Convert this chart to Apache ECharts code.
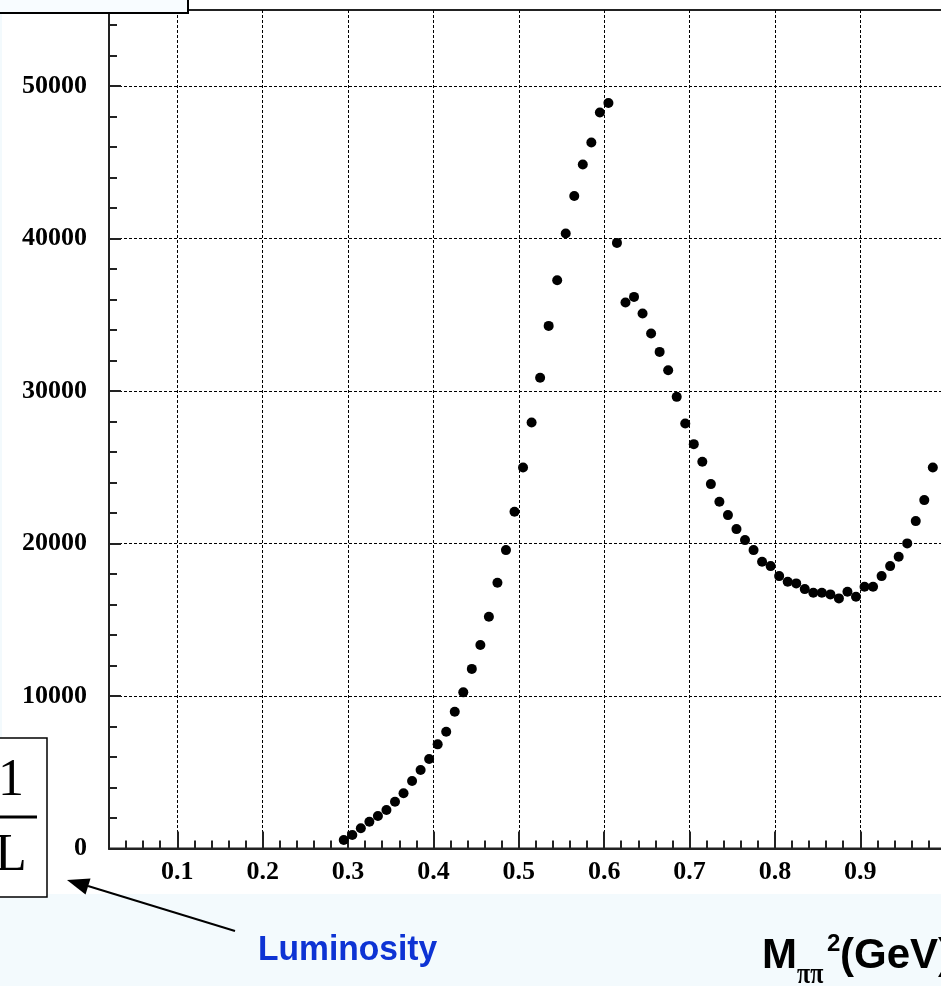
<!DOCTYPE html>
<html><head><meta charset="utf-8">
<script src="https://cdn.jsdelivr.net/npm/echarts@6/dist/echarts.min.js"></script>
<style>html,body{margin:0;padding:0;background:#f3fafd;overflow:hidden;}#c{width:1040px;height:986px;}</style>
</head><body><div id="c"></div>
<script>
// Data
const xValues = [0.295,0.305,0.315,0.325,0.335,0.345,0.355,0.365,0.375,0.385,
  0.395,0.405,0.415,0.425,0.435,0.445,0.455,0.465,0.475,0.485,
  0.495,0.505,0.515,0.525,0.535,0.545,0.555,0.565,0.575,0.585,
  0.595,0.605,0.615,0.625,0.635,0.645,0.655,0.665,0.675,0.685,
  0.695,0.705,0.715,0.725,0.735,0.745,0.755,0.765,0.775,0.785,
  0.795,0.805,0.815,0.825,0.835,0.845,0.855,0.865,0.875,0.885,
  0.895,0.905,0.915,0.925,0.935,0.945,0.955,0.965,0.975,0.985];
const yValues = [557,885,1324,1757,2131,2525,3069,3620,4426,5148,
  5869,6832,7659,8970,10243,11780,13344,15199,17429,19573,
  22084,24995,27946,30880,34280,37277,40338,42804,44863,46305,
  48273,48903,39723,35814,36182,35093,33782,32575,31375,29624,
  27880,26523,25363,23901,22741,21868,20950,20228,19573,18806,
  18524,17868,17494,17389,17015,16773,16773,16668,16406,16839,
  16511,17166,17166,17868,18524,19134,20012,21475,22852,24995];
const xMajorTicks = [0.1,0.2,0.3,0.4,0.5,0.6,0.7,0.8,0.9,1.0];
const xMinorTicks = [0.04,0.06,0.08,0.12,0.14,0.16,0.18,0.22,0.24,0.26,0.28,0.32,0.34,0.36,0.38,
  0.42,0.44,0.46,0.48,0.52,0.54,0.56,0.58,0.62,0.64,0.66,0.68,0.72,0.74,0.76,0.78,
  0.82,0.84,0.86,0.88,0.92,0.94,0.96,0.98,1.02,1.04,1.06,1.08];
const yMajorTicks = [0,10000,20000,30000,40000,50000];
const yMinorTicks = [2000,4000,6000,8000,12000,14000,16000,18000,22000,24000,26000,28000,
  32000,34000,36000,38000,42000,44000,46000,48000,52000,54000];
const xRange = [0.02, 1.1];
const yRange = [0, 55000];

const chart = echarts.init(document.getElementById('c'), null, {renderer:'canvas'});
const g = {left:109, top:10, width:922, height:838.5};
const axisCol = '#222';
const labelFont = {color:'#000', fontFamily:'"Liberation Serif", serif', fontWeight:'bold', fontSize:26};

const option = {
  backgroundColor:'#f3fafd',
  animation:false,
  grid:[
    Object.assign({show:true, borderColor:axisCol, borderWidth:2, backgroundColor:'#fff'}, g),
    Object.assign({show:false}, g)
  ],
  xAxis:[
    {type:'value', gridIndex:0, min:xRange[0], max:xRange[1], position:'bottom',
     axisLine:{show:true, onZero:false, lineStyle:{color:axisCol, width:2}},
     axisTick:{show:true, inside:true, length:17, customValues:xMajorTicks, lineStyle:{color:axisCol, width:2}},
     axisLabel:Object.assign({show:true, customValues:xMajorTicks, margin:11,
       formatter:v=>String(+(+v).toFixed(2))}, labelFont),
     splitLine:{show:true, lineStyle:{color:'#000', width:1, type:[3,2]}}},
    {type:'value', gridIndex:1, min:xRange[0], max:xRange[1], position:'bottom',
     axisLine:{show:false, onZero:false},
     axisTick:{show:true, inside:true, length:8, customValues:xMinorTicks, lineStyle:{color:axisCol, width:2}},
     axisLabel:{show:false}, splitLine:{show:false}}
  ],
  yAxis:[
    {type:'value', gridIndex:0, min:yRange[0], max:yRange[1], position:'left',
     axisLine:{show:true, onZero:false, lineStyle:{color:axisCol, width:2}},
     axisTick:{show:true, inside:true, length:12, customValues:yMajorTicks, lineStyle:{color:axisCol, width:2}},
     axisLabel:Object.assign({show:true, customValues:yMajorTicks, margin:22,
       formatter:v=>String(Math.round(v))}, labelFont),
     splitLine:{show:true, lineStyle:{color:'#000', width:1, type:[3,2]}}},
    {type:'value', gridIndex:1, min:yRange[0], max:yRange[1], position:'left',
     axisLine:{show:false, onZero:false},
     axisTick:{show:true, inside:true, length:8, customValues:yMinorTicks, lineStyle:{color:axisCol, width:2}},
     axisLabel:{show:false}, splitLine:{show:false}}
  ],
  series:[{
    type:'scatter', xAxisIndex:0, yAxisIndex:0,
    data:xValues.map((x,i)=>[x, yValues[i]]),
    symbol:'circle', symbolSize:10,
    itemStyle:{color:'#000', opacity:1}
  }],
  graphic:[
    {type:'rect', z:-100, shape:{x:2, y:0, width:1040, height:894}, style:{fill:'#fff'}},
    {type:'rect', z:100, shape:{x:-3, y:-3, width:191, height:16}, style:{fill:'#f8fcff', stroke:'#000', lineWidth:2}},
    {type:'rect', z:100, shape:{x:-3, y:738, width:50, height:159}, style:{fill:'#fff', stroke:'#000', lineWidth:1.5}},
    {type:'text', z:101, x:11, y:781, style:{text:'1', font:'52px "Liberation Serif", serif', fill:'#000', align:'center', verticalAlign:'middle'}},
    {type:'line', z:101, shape:{x1:-15, y1:817, x2:37, y2:817}, style:{stroke:'#000', lineWidth:3}},
    {type:'text', z:101, x:11, y:856, style:{text:'L', font:'52px "Liberation Serif", serif', fill:'#000', align:'center', verticalAlign:'middle'}},
    {type:'line', z:101, shape:{x1:235, y1:931, x2:88, y2:886}, style:{stroke:'#000', lineWidth:2}},
    {type:'polygon', z:101, shape:{points:[[67,880],[90.5,878.5],[85.5,894.5]]}, style:{fill:'#000'}},
    {type:'text', z:101, x:258, y:950, scaleX:0.96, style:{text:'Luminosity', font:'bold 35px "Liberation Sans", Arial, sans-serif', fill:'#0d33d4', verticalAlign:'middle'}},
    {type:'text', z:101, x:762, y:956, style:{text:'M', font:'bold 42px "Liberation Sans", Arial, sans-serif', fill:'#000', verticalAlign:'middle'}},
    {type:'text', z:101, x:797, y:975, scaleX:0.8, style:{text:'ππ', font:'bold 30px "Liberation Serif", serif', fill:'#000', verticalAlign:'middle'}},
    {type:'text', z:101, x:827, y:944, style:{text:'2', font:'bold 24px "Liberation Sans", Arial, sans-serif', fill:'#000', verticalAlign:'middle'}},
    {type:'text', z:101, x:840, y:956, style:{text:'(GeV)', font:'bold 42px "Liberation Sans", Arial, sans-serif', fill:'#000', verticalAlign:'middle'}}
  ]
};
chart.setOption(option);
</script></body></html>
